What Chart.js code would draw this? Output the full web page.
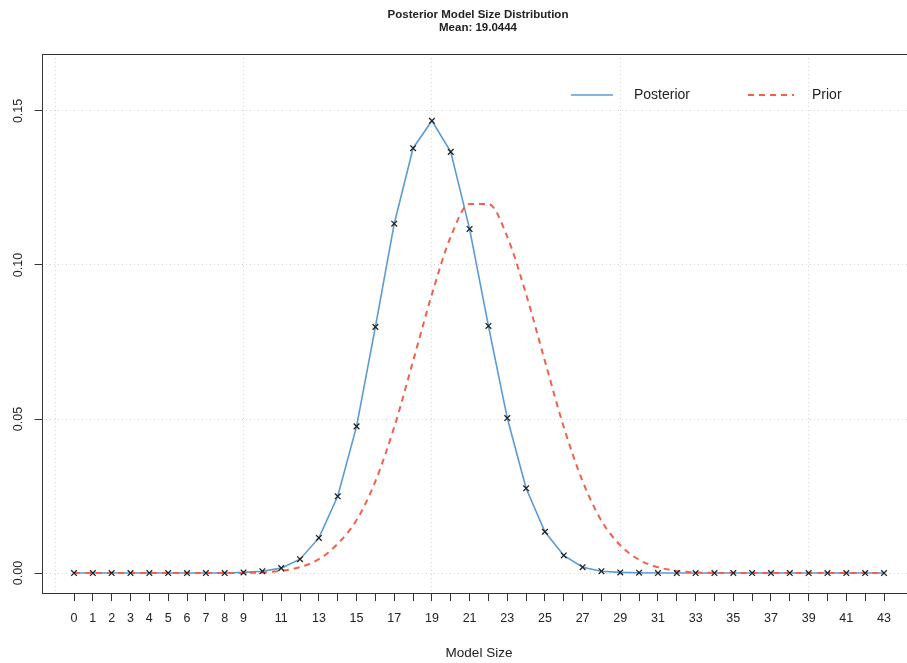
<!DOCTYPE html>
<html>
<head>
<meta charset="utf-8">
<script src="https://cdn.jsdelivr.net/npm/chart.js@4.4.1/dist/chart.umd.min.js"></script>
<style>
  html, body { margin: 0; padding: 0; background: #fff; overflow: hidden; width: 907px; height: 663px; }
  canvas { display: block; }
</style>
</head>
<body>
<canvas id="chart" width="958" height="663"></canvas>
<script>
// Model sizes (number of included regressors) on the x axis
const modelSizes = [0,1,2,3,4,5,6,7,8,9,10,11,12,13,14,15,16,17,18,19,20,21,
                    22,23,24,25,26,27,28,29,30,31,32,33,34,35,36,37,38,39,40,41,42,43];

// Posterior probability of each model size
const posterior = [0,0,0,0,0,0,0,0,0,0.0002,0.0006,0.0016,0.0045,0.0114,0.0249,0.0476,
                   0.0799,0.1134,0.1379,0.1468,0.1367,0.1117,0.0802,0.0503,0.0275,0.0134,
                   0.0057,0.0019,0.0006,0.0002,0.0001,0,0,0,0,0,0,0,0,0,0,0,0,0];

// Prior probability of each model size
const prior = [0,0,0,0,0,0,0,0,0,0.00005,0.0002,0.0007,0.0019,0.0045,0.0095,0.0172,
               0.0298,0.0474,0.0688,0.0905,0.1092,0.1198,0.1198,0.1092,0.0905,0.0688,
               0.0474,0.0298,0.017,0.009,0.0043,0.0019,0.0007,0.0002,0.00005,0,0,0,0,0,0,0,0,0];

// Which sizes get a printed tick label
const sizeLabels = [0,1,2,3,4,5,6,7,8,9,11,13,15,17,19,21,23,25,27,29,31,33,35,37,39,41,43];
// Where the vertical dotted grid lines fall
const sizeGridLines = [-1,9,19,29,39];
// Density ticks on the y axis
const densityTicks = [0, 0.05, 0.10, 0.15];

const chartTitle = ['Posterior Model Size Distribution', 'Mean: 19.0444'];
const seriesNames = ['Posterior', 'Prior'];

const FONT = "'Liberation Sans', Arial, Helvetica, sans-serif";
const INK = '#222222';
const BLUE = '#5b9bd5';
const RED = '#f2604c';
const GRID = '#d6d6d6';
const CLEAR = 'rgba(0,0,0,0)';

Chart.defaults.font.family = FONT;
Chart.defaults.color = INK;

const postPts = modelSizes.map((k, i) => ({ x: k, y: posterior[i] }));
const priorPts = modelSizes.map((k, i) => ({ x: k, y: prior[i] }));

// Box around the plot, the two-line heading and the legend
const decorations = {
  id: 'decorations',
  beforeDatasetsDraw(chart) {
    const { ctx, chartArea: a } = chart;
    ctx.save();
    ctx.strokeStyle = '#333';
    ctx.lineWidth = 1;
    ctx.strokeRect(Math.round(a.left) + 0.5, Math.round(a.top) + 0.5,
                   Math.round(a.right - a.left), Math.round(a.bottom - a.top));
    ctx.restore();
  },
  afterDraw(chart) {
    const { ctx, chartArea: a } = chart;
    const cx = (a.left + a.right) / 2;
    ctx.save();
    ctx.fillStyle = INK;
    ctx.textAlign = 'center';
    ctx.textBaseline = 'middle';
    ctx.font = 'bold 11.5px ' + FONT;
    ctx.fillText(chartTitle[0], cx - 1, 15);
    ctx.fillText(chartTitle[1], cx - 1, 28);

    // legend
    const ly = 95;
    ctx.font = '14px ' + FONT;
    ctx.textAlign = 'left';
    ctx.lineWidth = 1.6;
    ctx.strokeStyle = BLUE;
    ctx.beginPath(); ctx.moveTo(571, ly); ctx.lineTo(613, ly); ctx.stroke();
    ctx.fillText(seriesNames[0], 634, ly);
    ctx.lineWidth = 2;
    ctx.strokeStyle = RED;
    ctx.setLineDash([6, 5]);
    ctx.beginPath(); ctx.moveTo(748, ly); ctx.lineTo(794, ly); ctx.stroke();
    ctx.setLineDash([]);
    ctx.fillText(seriesNames[1], 812, ly);
    ctx.restore();
  }
};

new Chart(document.getElementById('chart'), {
  type: 'line',
  data: {
    datasets: [
      { label: seriesNames[0], data: postPts, borderColor: BLUE, borderWidth: 1.6,
        pointRadius: 0, tension: 0, order: 3 },
      { label: seriesNames[1], data: priorPts, borderColor: RED, borderWidth: 2,
        borderDash: [6, 5], pointRadius: 0, cubicInterpolationMode: 'monotone', order: 2 },
      { label: seriesNames[0], data: postPts, showLine: false, pointStyle: 'crossRot',
        pointRadius: 4, pointBorderColor: INK, pointBackgroundColor: INK,
        pointBorderWidth: 1.3, order: 1 }
    ]
  },
  options: {
    responsive: false,
    animation: false,
    events: [],
    layout: { padding: { top: 54, left: 0, right: 41.6, bottom: 0 } },
    plugins: { legend: { display: false }, tooltip: { enabled: false }, title: { display: false } },
    scales: {
      x: {
        type: 'linear',
        min: -1.72, max: 44.72,
        afterBuildTicks: s => {
          s.ticks = sizeGridLines.filter(v => v < 0).concat(modelSizes).map(v => ({ value: v }));
        },
        afterFit: s => { s.height = 70; },
        ticks: {
          autoSkip: false, maxRotation: 0, minRotation: 0, padding: 10,
          font: { size: 12.5 }, color: INK,
          callback: v => sizeLabels.includes(v) ? String(v) : ''
        },
        grid: {
          color: c => (c.tick && sizeGridLines.includes(c.tick.value)) ? GRID : CLEAR,
          tickColor: c => (c.tick && c.tick.value >= 0) ? '#333' : CLEAR,
          tickLength: 8, lineWidth: 1, tickWidth: 1, borderDash: [1, 3]
        },
        border: { display: false, dash: [1, 3] },
        title: { display: true, text: 'Model Size', font: { size: 13.5 }, color: INK,
                 padding: { top: 0, bottom: 2 } }
      },
      y: {
        min: -0.00648, max: 0.16848,
        afterBuildTicks: s => { s.ticks = densityTicks.map(v => ({ value: v })); },
        afterFit: s => { s.width = 41.6; },
        ticks: {
          minRotation: 90, maxRotation: 90, crossAlign: 'center', padding: 4,
          font: { size: 12.5 }, color: INK,
          callback: v => v.toFixed(2)
        },
        grid: { color: GRID, tickColor: '#333', tickLength: 7, lineWidth: 1, borderDash: [1, 3] },
        border: { display: false, dash: [1, 3] }
      }
    }
  },
  plugins: [decorations]
});
</script>
</body>
</html>
